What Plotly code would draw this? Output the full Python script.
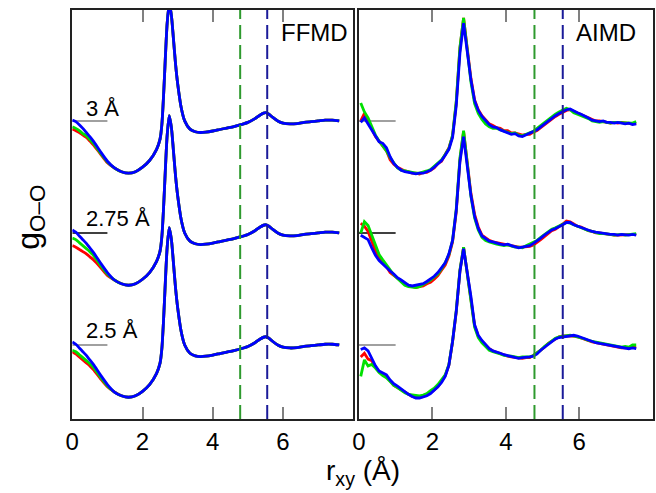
import plotly.graph_objects as go

# ---------------- data (h = g - 1) ----------------
# FFMD: shared radial grid
r_ff = [0.0, 0.1, 0.2, 0.3, 0.4, 0.5, 0.6, 0.8, 1.0,
        1.2, 1.4, 1.6, 1.8, 2.0, 2.2, 2.4, 2.5, 2.55, 2.6, 2.65, 2.7, 2.76, 2.82, 2.88, 2.94,
        3.0, 3.1, 3.2, 3.35, 3.5, 3.65, 3.8, 4.0, 4.2, 4.4, 4.6, 4.8, 5.0, 5.2, 5.35, 5.5,
        5.6, 5.7, 5.85, 6.0, 6.2, 6.4, 6.6, 6.8, 7.0, 7.2, 7.4, 7.6]
# beyond r = 1.0 all three FFMD colours coincide
ffmd_tail = [-0.63, -0.68, -0.70, -0.68, -0.62, -0.53, -0.38, -0.24, -0.05, 0.35, 0.85, 1.30, 1.57,
             1.42, 1.10, 0.76, 0.50, 0.18, 0.0, -0.11, -0.145, -0.155, -0.15, -0.135, -0.115,
             -0.095, -0.075, -0.05, -0.02, 0.03, 0.08, 0.11, 0.09, 0.05, 0.0, -0.03, -0.04,
             -0.035, -0.02, -0.01, 0.0, 0.01, 0.01, 0.0]
ffmd_3_blue = [0.01, -0.01, -0.05, -0.10, -0.155, -0.21, -0.27, -0.41, -0.54] + ffmd_tail
ffmd_3_green = [-0.08, -0.10, -0.13, -0.17, -0.20, -0.25, -0.30, -0.43, -0.55] + ffmd_tail
ffmd_3_red = [-0.11, -0.13, -0.155, -0.19, -0.22, -0.27, -0.32, -0.44, -0.56] + ffmd_tail
ffmd_275_blue = [0.04, 0.01, -0.04, -0.09, -0.14, -0.20, -0.26, -0.40, -0.53] + ffmd_tail
ffmd_275_green = [-0.07, -0.09, -0.13, -0.17, -0.21, -0.25, -0.30, -0.43, -0.55] + ffmd_tail
ffmd_275_red = [-0.17, -0.19, -0.22, -0.25, -0.28, -0.32, -0.36, -0.46, -0.57] + ffmd_tail
ffmd_25_blue = [0.04, 0.01, -0.04, -0.09, -0.14, -0.20, -0.26, -0.40, -0.53] + ffmd_tail
ffmd_25_green = [-0.07, -0.09, -0.13, -0.17, -0.21, -0.25, -0.30, -0.43, -0.55] + ffmd_tail
ffmd_25_red = [-0.09, -0.12, -0.16, -0.20, -0.24, -0.28, -0.33, -0.45, -0.56] + ffmd_tail

# AIMD: histogram bin centres 0.05 ... 7.55
r_ai = [round(0.05 + 0.1 * i, 2) for i in range(76)]
aimd_3_blue = [-0.02, 0.04, -0.04, -0.12, -0.20, -0.28, -0.30, -0.36, -0.48, -0.57,
               -0.62, -0.66, -0.68, -0.69, -0.70, -0.71, -0.70, -0.70, -0.68, -0.66,
               -0.62, -0.58, -0.53, -0.46, -0.38, -0.22, 0.20, 0.90, 1.31, 0.93,
               0.55, 0.27, 0.14, 0.06, 0.01, -0.05, -0.08, -0.09, -0.12, -0.14,
               -0.15, -0.18, -0.17, -0.20, -0.21, -0.19, -0.17, -0.15, -0.12, -0.08,
               -0.04, -0.01, 0.03, 0.07, 0.10, 0.13, 0.15, 0.16, 0.13, 0.11,
               0.09, 0.07, 0.04, 0.01, 0.0, -0.01, 0.0, -0.02, -0.02, -0.03,
               -0.02, -0.03, -0.04, -0.03, -0.05, -0.04]
aimd_3_red = [0.00, 0.10, 0.00, -0.10, -0.21, -0.27, -0.33, -0.40, -0.52, -0.58,
              -0.62, -0.65, -0.67, -0.68, -0.70, -0.70, -0.71, -0.69, -0.69, -0.66,
              -0.63, -0.57, -0.54, -0.45, -0.36, -0.20, 0.24, 0.97, 1.38, 0.97,
              0.57, 0.28, 0.15, 0.07, 0.02, -0.04, -0.06, -0.09, -0.10, -0.13,
              -0.13, -0.16, -0.16, -0.18, -0.19, -0.18, -0.18, -0.15, -0.13, -0.09,
              -0.05, -0.01, 0.02, 0.06, 0.09, 0.12, 0.14, 0.15, 0.13, 0.10,
              0.08, 0.06, 0.04, 0.02, 0.0, 0.0, -0.01, -0.01, -0.03, -0.02,
              -0.03, -0.02, -0.03, -0.03, -0.04, -0.03]
aimd_3_green = [0.24, 0.12, 0.04, -0.08, -0.19, -0.27, -0.33, -0.40, -0.49, -0.56,
                -0.63, -0.66, -0.67, -0.69, -0.70, -0.70, -0.70, -0.69, -0.67, -0.65,
                -0.61, -0.57, -0.52, -0.45, -0.37, -0.19, 0.26, 0.98, 1.38, 0.95,
                0.52, 0.23, 0.10, 0.02, -0.04, -0.08, -0.10, -0.10, -0.12, -0.13,
                -0.15, -0.17, -0.16, -0.19, -0.20, -0.18, -0.15, -0.14, -0.10, -0.06,
                -0.02, 0.02, 0.06, 0.09, 0.12, 0.15, 0.17, 0.15, 0.11, 0.09,
                0.07, 0.06, 0.03, 0.0, -0.01, -0.02, -0.01, -0.02, -0.03, -0.02,
                -0.02, -0.03, -0.03, -0.02, -0.03, -0.01]
aimd_275_blue = [-0.03, -0.06, -0.09, -0.20, -0.30, -0.37, -0.42, -0.47, -0.51, -0.55,
                 -0.60, -0.63, -0.67, -0.70, -0.71, -0.70, -0.70, -0.68, -0.65, -0.62,
                 -0.58, -0.53, -0.47, -0.40, -0.28, -0.10, 0.30, 0.95, 1.29, 0.90,
                 0.50, 0.22, 0.06, -0.04, -0.08, -0.11, -0.12, -0.14, -0.15, -0.16,
                 -0.15, -0.17, -0.18, -0.20, -0.19, -0.18, -0.17, -0.14, -0.11, -0.07,
                 -0.03, 0.01, 0.04, 0.06, 0.08, 0.11, 0.14, 0.14, 0.11, 0.09,
                 0.07, 0.05, 0.04, 0.02, 0.01, 0.0, 0.0, -0.01, -0.02, -0.02,
                 -0.03, -0.02, -0.03, -0.03, -0.02, -0.03]
aimd_275_red = [0.13, 0.09, 0.02, -0.12, -0.24, -0.33, -0.40, -0.45, -0.53, -0.57,
                -0.61, -0.65, -0.68, -0.70, -0.72, -0.73, -0.72, -0.71, -0.68, -0.66,
                -0.62, -0.57, -0.50, -0.43, -0.31, -0.12, 0.28, 0.97, 1.36, 0.95,
                0.53, 0.25, 0.08, -0.03, -0.07, -0.10, -0.12, -0.13, -0.14, -0.15,
                -0.16, -0.16, -0.18, -0.19, -0.19, -0.19, -0.18, -0.16, -0.13, -0.09,
                -0.05, -0.01, 0.03, 0.05, 0.08, 0.12, 0.16, 0.15, 0.12, 0.09,
                0.08, 0.05, 0.03, 0.02, 0.0, 0.0, -0.01, -0.02, -0.02, -0.03,
                -0.03, -0.03, -0.02, -0.03, -0.03, -0.02]
aimd_275_green = [0.00, 0.15, 0.10, -0.04, -0.17, -0.29, -0.36, -0.43, -0.50, -0.56,
                  -0.61, -0.66, -0.70, -0.72, -0.73, -0.73, -0.72, -0.69, -0.67, -0.63,
                  -0.59, -0.55, -0.48, -0.40, -0.29, -0.10, 0.32, 1.00, 1.37, 0.92,
                  0.49, 0.20, 0.04, -0.06, -0.10, -0.12, -0.14, -0.15, -0.16, -0.17,
                  -0.16, -0.18, -0.19, -0.19, -0.20, -0.17, -0.15, -0.13, -0.10, -0.06,
                  -0.02, 0.02, 0.05, 0.07, 0.09, 0.12, 0.14, 0.13, 0.11, 0.08,
                  0.06, 0.05, 0.03, 0.02, 0.0, -0.01, -0.01, -0.01, -0.02, -0.03,
                  -0.02, -0.02, -0.03, -0.02, -0.02, -0.01]
aimd_25_blue = [-0.06, -0.04, -0.08, -0.18, -0.28, -0.35, -0.38, -0.40, -0.47, -0.52,
                -0.55, -0.59, -0.63, -0.66, -0.69, -0.71, -0.71, -0.70, -0.68, -0.65,
                -0.61, -0.56, -0.50, -0.42, -0.27, 0.05, 0.45, 0.98, 1.29, 0.98,
                0.65, 0.27, 0.13, 0.06, 0.0, -0.05, -0.08, -0.09, -0.11, -0.13,
                -0.14, -0.15, -0.17, -0.18, -0.17, -0.17, -0.16, -0.15, -0.12, -0.07,
                -0.03, 0.01, 0.05, 0.08, 0.10, 0.11, 0.12, 0.12, 0.13, 0.12,
                0.10, 0.08, 0.06, 0.05, 0.03, 0.02, 0.01, 0.0, -0.01, -0.02,
                -0.02, -0.04, -0.04, -0.05, -0.04, -0.05]
aimd_25_red = [-0.16, -0.11, -0.19, -0.21, -0.29, -0.36, -0.40, -0.43, -0.48, -0.54,
               -0.57, -0.60, -0.64, -0.67, -0.69, -0.70, -0.70, -0.69, -0.66, -0.64,
               -0.60, -0.56, -0.49, -0.41, -0.27, 0.04, 0.44, 0.99, 1.31, 0.97,
               0.63, 0.26, 0.12, 0.05, 0.0, -0.05, -0.08, -0.10, -0.12, -0.13,
               -0.15, -0.16, -0.17, -0.18, -0.18, -0.17, -0.17, -0.14, -0.11, -0.07,
               -0.03, 0.02, 0.05, 0.08, 0.11, 0.12, 0.12, 0.13, 0.12, 0.11,
               0.09, 0.08, 0.06, 0.04, 0.03, 0.02, 0.01, 0.0, -0.01, -0.02,
               -0.03, -0.04, -0.04, -0.04, -0.03, -0.03]
aimd_25_green = [-0.42, -0.20, -0.28, -0.26, -0.31, -0.37, -0.41, -0.44, -0.49, -0.54,
                 -0.57, -0.61, -0.64, -0.66, -0.67, -0.67, -0.68, -0.67, -0.65, -0.61,
                 -0.58, -0.53, -0.47, -0.40, -0.26, 0.05, 0.46, 1.00, 1.31, 0.96,
                 0.61, 0.24, 0.10, 0.03, -0.02, -0.07, -0.09, -0.10, -0.12, -0.14,
                 -0.14, -0.15, -0.16, -0.17, -0.16, -0.16, -0.16, -0.14, -0.11, -0.07,
                 -0.02, 0.02, 0.06, 0.09, 0.11, 0.12, 0.12, 0.13, 0.12, 0.11,
                 0.10, 0.08, 0.06, 0.05, 0.04, 0.02, 0.01, 0.0, -0.01, -0.01,
                 -0.02, -0.03, -0.02, -0.03, 0.0, 0.0]

wall_labels = ["3 Å", "2.75 Å", "2.5 Å"]
shifts = [3.0, 1.5, 0.0]           # vertical stacking of the three curves
r_dashed = [4.78, 5.55]
x_ticks = [0, 2, 4, 6]

ffmd = [(ffmd_3_red, ffmd_3_green, ffmd_3_blue),
        (ffmd_275_red, ffmd_275_green, ffmd_275_blue),
        (ffmd_25_red, ffmd_25_green, ffmd_25_blue)]
aimd = [(aimd_3_red, aimd_3_green, aimd_3_blue),
        (aimd_275_red, aimd_275_green, aimd_275_blue),
        (aimd_25_red, aimd_25_green, aimd_25_blue)]
for grp in aimd:
    for s in grp:
        assert len(s) == len(r_ai)
for grp in ffmd:
    for s in grp:
        assert len(s) == len(r_ff)

# ---------------- figure ----------------
colors = ["#ff0000", "#00e000", "#0000ff"]
FONT = "Liberation Sans, Arial, Helvetica, sans-serif"
fig = go.Figure()

for (series, rr, xa, ya, shape) in [(ffmd, r_ff, "x", "y", "spline"), (aimd, r_ai, "x2", "y2", "linear")]:
    for grp, sh in zip(series, shifts):
        for s, c in zip(grp, colors):
            fig.add_trace(go.Scatter(x=rr, y=[v + 1 + sh for v in s], mode="lines",
                                     line=dict(color=c, width=2.8, shape=shape, smoothing=0.7),
                                     xaxis=xa, yaxis=ya, showlegend=False, hoverinfo="skip"))

shapes = []
for xr, yr in [("x", "y"), ("x2", "y2")]:
    for i, sh in enumerate(shifts):
        shapes.append(dict(type="line", xref=xr, yref=yr, x0=0, x1=1, y0=1 + sh, y1=1 + sh,
                           line=dict(color="#000000" if i == 1 else "#808080", width=1.5),
                           layer="below"))
    for rd, col in zip(r_dashed, ["#2e9a2e", "#1a1a99"]):
        shapes.append(dict(type="line", xref=xr, yref=yr + " domain", x0=rd, x1=rd, y0=0, y1=1,
                           line=dict(color=col, width=2, dash="14px,6px"), layer="above"))

annotations = [
    dict(text="FFMD", x=7.9, y=5.18, xref="x", yref="y", xanchor="right", yanchor="middle",
         showarrow=False, font=dict(size=24, color="black", family=FONT)),
    dict(text="AIMD", x=7.6, y=5.18, xref="x2", yref="y2", xanchor="right", yanchor="middle",
         showarrow=False, font=dict(size=24, color="black", family=FONT)),
    dict(text="r<sub>xy</sub> (Å)", x=360 / 656, y=(493 - 472) / 493, xref="paper", yref="paper",
         xanchor="center", yanchor="middle", showarrow=False,
         font=dict(size=28, color="black", family=FONT)),
    dict(text="g<sub>O–O</sub>", x=24 / 656, y=(493 - 217) / 493, xref="paper", yref="paper",
         xanchor="center", yanchor="middle", textangle=-90, showarrow=False,
         font=dict(size=32, color="black", family=FONT)),
]
for lab, sh, ylab in zip(wall_labels, shifts, [4.17, 2.69, 1.2]):
    annotations.append(dict(text=lab, x=0.33, y=ylab, xref="x", yref="y", xanchor="left",
                            yanchor="middle", showarrow=False,
                            font=dict(size=22, color="black", family=FONT)))

xcommon = dict(range=[0, 8], tickvals=x_ticks, ticks="inside", ticklen=12, tickwidth=1.5,
               tickcolor="#808080", showline=True, linecolor="#222222", linewidth=1.5,
               mirror="ticks", showgrid=False, zeroline=False,
               tickfont=dict(size=24, color="black", family=FONT))
ycommon = dict(range=[0.009, 5.485], showticklabels=False, ticks="", showline=True,
               linecolor="#222222", linewidth=1.5, mirror=True, showgrid=False, zeroline=False)

fig.update_layout(
    width=656, height=493, margin=dict(l=0, r=0, t=0, b=0),
    paper_bgcolor="white", plot_bgcolor="white",
    xaxis=dict(domain=[66 / 656, 350 / 656], anchor="y", **xcommon),
    xaxis2=dict(domain=[355.7 / 656, 652.7 / 656], anchor="y2", **xcommon),
    yaxis=dict(domain=[74 / 493, 483 / 493], anchor="x", **ycommon),
    yaxis2=dict(domain=[74 / 493, 483 / 493], anchor="x2", **ycommon),
    shapes=shapes, annotations=annotations,
    font=dict(family=FONT),
)

fig.write_html("out.html")
